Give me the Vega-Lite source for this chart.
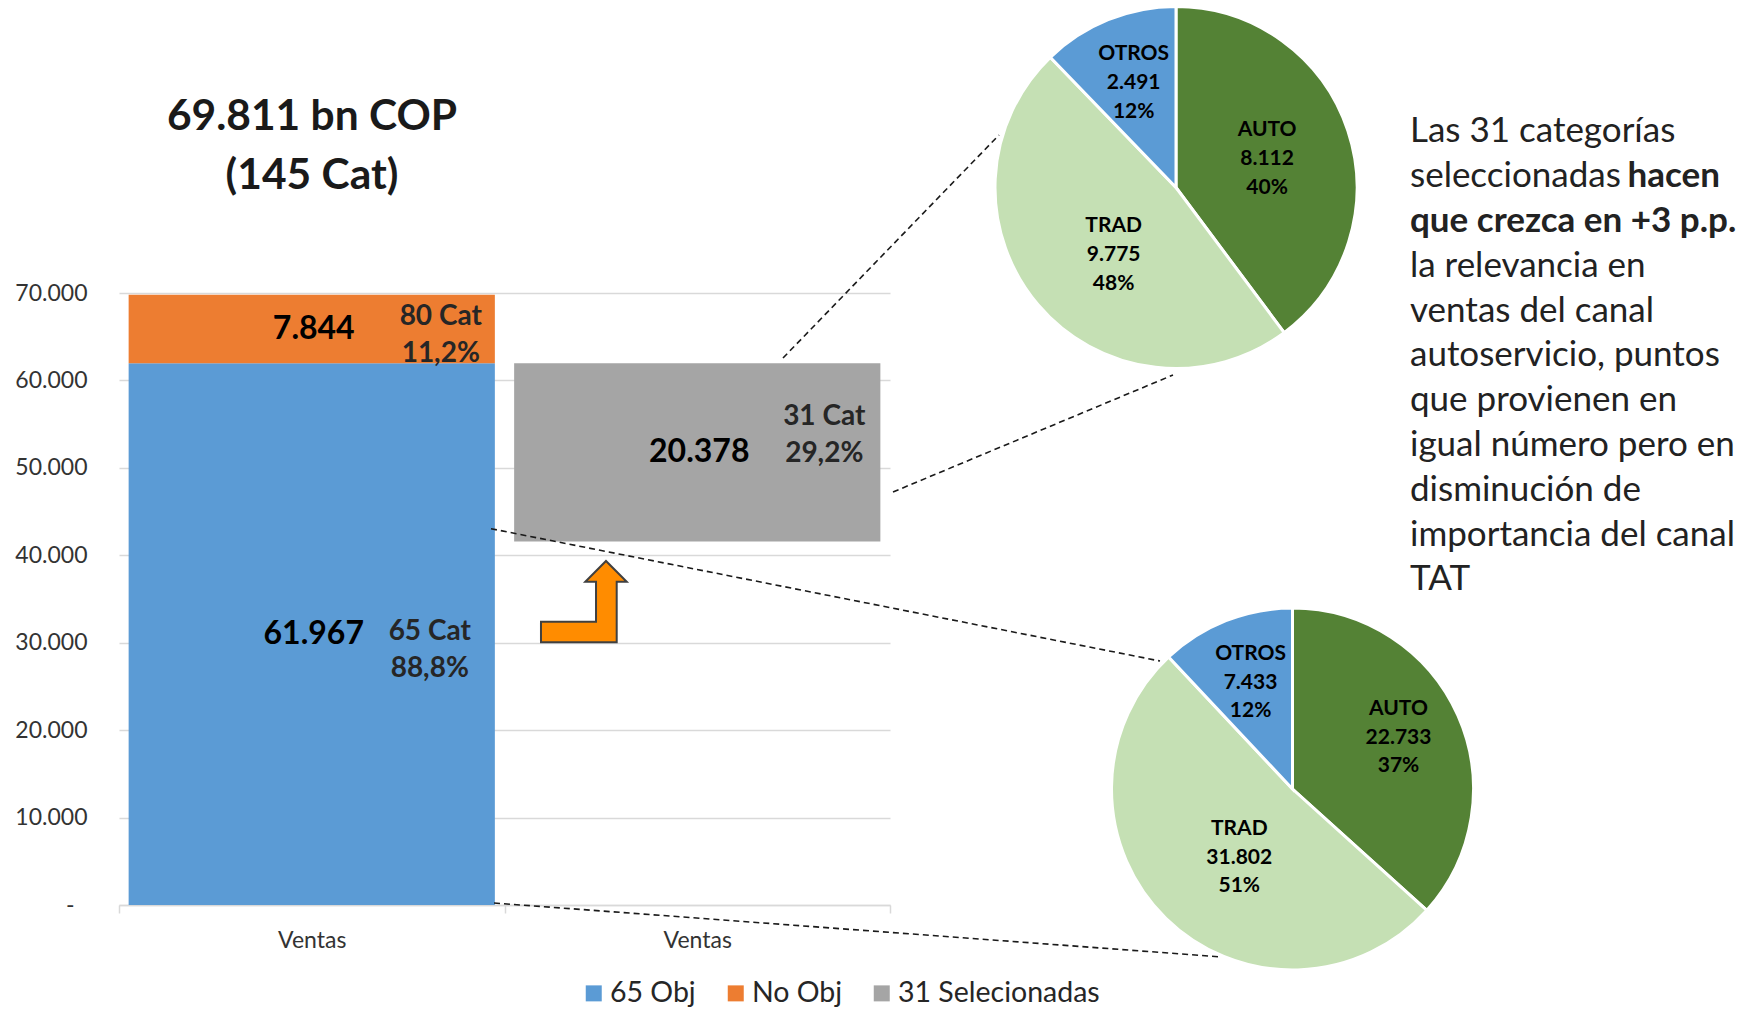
{
  "$schema": "https://vega.github.io/schema/vega-lite/v6.json",
  "width": 771,
  "height": 612,
  "autosize": {"type": "none"},
  "padding": {"left": 119, "top": 293, "right": 848, "bottom": 104},
  "background": "white",
  "config": {
    "view": {"stroke": null},
    "font": "Lato",
    "axisY": {"domain": false, "ticks": false, "gridColor": "#D9D9D9", "gridWidth": 1.3, "labelFont": "Lato", "labelFontSize": 23, "labelColor": "#333333", "title": null},
    "axisX": {"domainColor": "#D9D9D9", "domainWidth": 1.5, "tickColor": "#D9D9D9", "tickWidth": 1.5, "tickSize": 8, "labelFont": "Lato", "labelFontSize": 23, "labelColor": "#333333", "labelPadding": 16, "labelAngle": 0, "grid": false, "title": null}
  },
  "resolve": {"scale": {"color": "independent", "theta": "independent"}},
  "layer": [
    {
      "data": {"values": [
        {"cat": "Total", "serie": "65 Obj", "v": 61967, "ord": 1, "lbl": "61.967", "info": "65 Cat\n88,8%"},
        {"cat": "Total", "serie": "No Obj", "v": 7844, "ord": 2, "lbl": "7.844", "info": "80 Cat\n11,2%"},
        {"cat": "Sel", "serie": "base", "v": 41589, "ord": 1, "lbl": "", "info": ""},
        {"cat": "Sel", "serie": "31 Selecionadas", "v": 20378, "ord": 2, "lbl": "20.378", "info": "31 Cat\n29,2%"}
      ]},
      "encoding": {
        "x": {"field": "cat", "type": "nominal", "sort": ["Total", "Sel"], "scale": {"paddingInner": 0, "paddingOuter": 0}, "axis": {"labelExpr": "datum.value === 'Total' || datum.value === 'Sel' ? 'Ventas' : ''", "tickBand": "extent", "title": null}},
        "y": {"field": "v", "type": "quantitative", "stack": "zero", "scale": {"domain": [0, 70000], "nice": false}, "axis": {"values": [0, 10000, 20000, 30000, 40000, 50000, 60000, 70000], "grid": true, "title": null, "labelPadding": {"condition": {"test": "datum.value === 0", "value": 45}, "value": 32}, "labelExpr": "datum.value === 0 ? '-' : replace(format(datum.value, ','), ',', '.')"}},
        "order": {"field": "ord", "type": "quantitative"}
      },
      "layer": [
        {
          "mark": {"type": "bar", "width": {"band": 0.95}},
          "encoding": {
            "color": {"field": "serie", "type": "nominal",
              "scale": {"domain": ["65 Obj", "No Obj", "31 Selecionadas", "base"], "range": ["#5B9BD5", "#ED7D31", "#A5A5A5", "rgba(0,0,0,0)"]},
              "legend": {"orient": "none", "legendX": 460.5, "legendY": 686, "direction": "horizontal", "title": null, "values": ["65 Obj", "No Obj", "31 Selecionadas"], "symbolType": "square", "symbolSize": 256, "symbolStrokeWidth": 0, "labelFont": "Lato", "labelFontSize": 28.5, "labelColor": "#262626", "labelOffset": 2, "columnPadding": 25, "padding": 0, "labelLimit": 400}}
          }
        },
        {
          "mark": {"type": "text", "font": "Lato", "fontSize": 32, "fontWeight": "bold", "color": "#000000", "dx": 2, "baseline": "middle", "align": "center"},
          "encoding": {
            "y": {"field": "v", "type": "quantitative", "stack": "zero", "bandPosition": 0.5, "title": null},
            "detail": {"field": "serie", "type": "nominal"},
            "text": {"field": "lbl", "type": "nominal"}
          }
        },
        {
          "mark": {"type": "text", "font": "Lato", "fontSize": 28, "fontWeight": "bold", "color": "#262626", "dx": 129, "dy": -12, "baseline": "middle", "align": "center", "lineBreak": "\n", "lineHeight": 37},
          "encoding": {
            "y": {"field": "v", "type": "quantitative", "stack": "zero", "bandPosition": 0.5, "title": null},
            "detail": {"field": "serie", "type": "nominal"},
            "text": {"condition": {"test": "datum.serie === 'No Obj'", "field": "info", "type": "nominal"}, "value": ""}
          }
        },
        {
          "mark": {"type": "text", "font": "Lato", "fontSize": 28, "fontWeight": "bold", "color": "#262626", "dx": 118, "dy": -2, "baseline": "middle", "align": "center", "lineBreak": "\n", "lineHeight": 37},
          "encoding": {
            "y": {"field": "v", "type": "quantitative", "stack": "zero", "bandPosition": 0.5, "title": null},
            "detail": {"field": "serie", "type": "nominal"},
            "text": {"condition": {"test": "datum.serie === '65 Obj'", "field": "info", "type": "nominal"}, "value": ""}
          }
        },
        {
          "mark": {"type": "text", "font": "Lato", "fontSize": 28, "fontWeight": "bold", "color": "#262626", "dx": 127, "dy": -35.5, "baseline": "middle", "align": "center", "lineBreak": "\n", "lineHeight": 37},
          "encoding": {
            "y": {"field": "v", "type": "quantitative", "stack": "zero", "bandPosition": 0.5, "title": null},
            "detail": {"field": "serie", "type": "nominal"},
            "text": {"condition": {"test": "datum.serie === '31 Selecionadas'", "field": "info", "type": "nominal"}, "value": ""}
          }
        }
      ]
    },
    {
      "data": {"values": [
        {"canal": "AUTO", "v": 8112, "ord": 1, "lbl": "AUTO\n8.112\n40%"},
        {"canal": "TRAD", "v": 9775, "ord": 2, "lbl": "TRAD\n9.775\n48%"},
        {"canal": "OTROS", "v": 2491, "ord": 3, "lbl": "OTROS\n2.491\n12%"}
      ]},
      "encoding": {
        "theta": {"field": "v", "type": "quantitative", "stack": true},
        "order": {"field": "ord", "type": "quantitative"}
      },
      "layer": [
        {
          "mark": {"type": "arc", "x": 1057, "y": -105.5, "outerRadius": 181, "stroke": "white", "strokeWidth": 3},
          "encoding": {"color": {"field": "canal", "type": "nominal", "scale": {"domain": ["AUTO", "TRAD", "OTROS"], "range": ["#548235", "#C5E0B4", "#5B9BD5"]}, "legend": null}}
        },
        {
          "mark": {"type": "text", "x": 1057, "y": -105.5, "radius": 96, "dy": -27, "font": "Lato", "fontSize": 21, "fontWeight": "bold", "color": "#000000", "lineBreak": "\n", "lineHeight": 29, "baseline": "middle", "align": "center"},
          "encoding": {"detail": {"field": "canal", "type": "nominal"}, "text": {"condition": {"test": "datum.canal === 'AUTO'", "field": "lbl", "type": "nominal"}, "value": ""}}
        },
        {
          "mark": {"type": "text", "x": 1057, "y": -105.5, "radius": 91, "dx": 7, "dy": -20, "font": "Lato", "fontSize": 21, "fontWeight": "bold", "color": "#000000", "lineBreak": "\n", "lineHeight": 29, "baseline": "middle", "align": "center"},
          "encoding": {"detail": {"field": "canal", "type": "nominal"}, "text": {"condition": {"test": "datum.canal === 'TRAD'", "field": "lbl", "type": "nominal"}, "value": ""}}
        },
        {
          "mark": {"type": "text", "x": 1057, "y": -105.5, "radius": 113, "dy": -29, "font": "Lato", "fontSize": 21, "fontWeight": "bold", "color": "#000000", "lineBreak": "\n", "lineHeight": 29, "baseline": "middle", "align": "center"},
          "encoding": {"detail": {"field": "canal", "type": "nominal"}, "text": {"condition": {"test": "datum.canal === 'OTROS'", "field": "lbl", "type": "nominal"}, "value": ""}}
        }
      ]
    },
    {
      "data": {"values": [
        {"canal": "AUTO", "v": 22733, "ord": 1, "lbl": "AUTO\n22.733\n37%"},
        {"canal": "TRAD", "v": 31802, "ord": 2, "lbl": "TRAD\n31.802\n51%"},
        {"canal": "OTROS", "v": 7433, "ord": 3, "lbl": "OTROS\n7.433\n12%"}
      ]},
      "encoding": {
        "theta": {"field": "v", "type": "quantitative", "stack": true},
        "order": {"field": "ord", "type": "quantitative"}
      },
      "layer": [
        {
          "mark": {"type": "arc", "x": 1173.5, "y": 496, "outerRadius": 181, "stroke": "white", "strokeWidth": 3},
          "encoding": {"color": {"field": "canal", "type": "nominal", "scale": {"domain": ["AUTO", "TRAD", "OTROS"], "range": ["#548235", "#C5E0B4", "#5B9BD5"]}, "legend": null}}
        },
        {
          "mark": {"type": "text", "x": 1173.5, "y": 496, "radius": 116, "dy": -32.5, "font": "Lato", "fontSize": 21, "fontWeight": "bold", "color": "#000000", "lineBreak": "\n", "lineHeight": 28.5, "baseline": "middle", "align": "center"},
          "encoding": {"detail": {"field": "canal", "type": "nominal"}, "text": {"condition": {"test": "datum.canal === 'AUTO'", "field": "lbl", "type": "nominal"}, "value": ""}}
        },
        {
          "mark": {"type": "text", "x": 1173.5, "y": 496, "radius": 86, "dx": 7, "dy": -21, "font": "Lato", "fontSize": 21, "fontWeight": "bold", "color": "#000000", "lineBreak": "\n", "lineHeight": 28.5, "baseline": "middle", "align": "center"},
          "encoding": {"detail": {"field": "canal", "type": "nominal"}, "text": {"condition": {"test": "datum.canal === 'TRAD'", "field": "lbl", "type": "nominal"}, "value": ""}}
        },
        {
          "mark": {"type": "text", "x": 1173.5, "y": 496, "radius": 114, "dy": -28.5, "font": "Lato", "fontSize": 21, "fontWeight": "bold", "color": "#000000", "lineBreak": "\n", "lineHeight": 28.5, "baseline": "middle", "align": "center"},
          "encoding": {"detail": {"field": "canal", "type": "nominal"}, "text": {"condition": {"test": "datum.canal === 'OTROS'", "field": "lbl", "type": "nominal"}, "value": ""}}
        }
      ]
    },
    {
      "data": {"values": [{}]},
      "mark": {"type": "rule", "strokeDash": [6, 4], "strokeWidth": 1.6, "color": "#1a1a1a"},
      "encoding": {"x": {"value": 664}, "y": {"value": 65}, "x2": {"value": 880}, "y2": {"value": -158}}
    },
    {
      "data": {"values": [{}]},
      "mark": {"type": "rule", "strokeDash": [6, 4], "strokeWidth": 1.6, "color": "#1a1a1a"},
      "encoding": {"x": {"value": 774}, "y": {"value": 199}, "x2": {"value": 1054}, "y2": {"value": 82}}
    },
    {
      "data": {"values": [{}]},
      "mark": {"type": "rule", "strokeDash": [6, 4], "strokeWidth": 1.6, "color": "#1a1a1a"},
      "encoding": {"x": {"value": 372}, "y": {"value": 235.7}, "x2": {"value": 1041}, "y2": {"value": 368}}
    },
    {
      "data": {"values": [{}]},
      "mark": {"type": "rule", "strokeDash": [6, 4], "strokeWidth": 1.6, "color": "#1a1a1a"},
      "encoding": {"x": {"value": 375}, "y": {"value": 610}, "x2": {"value": 1103}, "y2": {"value": 664}}
    },
    {
      "data": {"values": [{}]},
      "mark": {"type": "point", "shape": "M-0.997,0.945L-0.997,0.466L0.283,0.466L0.283,-0.464L0.034,-0.464L0.515,-0.945L0.997,-0.464L0.764,-0.464L0.764,0.945Z", "size": 7396, "filled": true, "fill": "#FF8C00", "stroke": "#404040", "strokeWidth": 2, "opacity": 1, "fillOpacity": 1},
      "encoding": {"x": {"value": 464.85}, "y": {"value": 308.65}}
    },
    {
      "data": {"values": [{}]},
      "mark": {"type": "text", "x": 193, "y": -176, "align": "center", "baseline": "middle", "font": "Lato", "fontSize": 42.5, "fontWeight": "bold", "color": "#1a1a1a", "lineHeight": 59,
        "text": ["69.811 bn COP", "(145 Cat)"]},
      "encoding": {}
    },
    {
      "data": {"values": [{}]},
      "mark": {"type": "text", "x": 1291, "y": -178.65, "align": "left", "baseline": "top", "font": "Lato", "fontSize": 35, "color": "#222222", "lineHeight": 44.8,
        "text": ["Las 31 categorías", "seleccionadas"]},
      "encoding": {}
    },
    {
      "data": {"values": [{}]},
      "mark": {"type": "text", "x": 1291, "y": -44.25, "align": "left", "baseline": "top", "font": "Lato", "fontSize": 35, "color": "#222222", "lineHeight": 44.8,
        "text": ["la relevancia en", "ventas del canal", "autoservicio, puntos", "que provienen en", "igual número pero en", "disminución de", "importancia del canal", "TAT"]},
      "encoding": {}
    },
    {
      "data": {"values": [{}]},
      "mark": {"type": "text", "x": 1601, "y": -133.85, "align": "right", "baseline": "top", "font": "Lato", "fontSize": 35, "fontWeight": "bold", "color": "#222222", "text": "hacen"},
      "encoding": {}
    },
    {
      "data": {"values": [{}]},
      "mark": {"type": "text", "x": 1291, "y": -89.05, "align": "left", "baseline": "top", "font": "Lato", "fontSize": 35, "fontWeight": "bold", "color": "#222222", "text": "que crezca en +3 p.p."},
      "encoding": {}
    }
  ]
}
